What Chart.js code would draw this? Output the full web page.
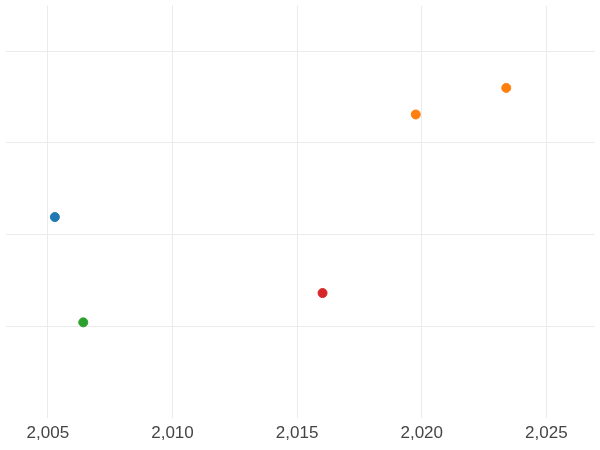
<!DOCTYPE html>
<html>
<head>
<script src="https://cdn.jsdelivr.net/npm/chart.js@4"></script>
<style>body{margin:0;background:#fff}</style>
</head>
<body>
<div style="width:600px;height:450px"><canvas id="c"></canvas></div>
<script>
const years = [2005.28, 2006.42, 2016.02, 2019.76, 2023.39];
const values = [2.19, 1.04, 1.36, 3.31, 3.6];
const colors = ["#1f77b4", "#2ca02c", "#d62728", "#ff7f0e", "#ff7f0e"];
const xTicks = [2005, 2010, 2015, 2020, 2025];

new Chart(document.getElementById("c"), {
  type: "scatter",
  data: {
    datasets: [{
      data: years.map((x, i) => ({ x: x, y: values[i] })),
      backgroundColor: colors,
      borderColor: colors,
      pointRadius: 4.5
    }]
  },
  options: {
    responsive: true,
    maintainAspectRatio: false,
    animation: false,
    layout: { padding: 0 },
    plugins: { legend: { display: false }, tooltip: { enabled: false } },
    scales: {
      x: {
        type: "linear", min: 2003.3, max: 2026.93,
        afterBuildTicks: (s) => { s.ticks = xTicks.map(v => ({ value: v })); },
        grid: { color: "#ebebeb", drawTicks: false },
        border: { display: false },
        ticks: { color: "#444", font: { size: 17 }, padding: 6 }
      },
      y: {
        min: 0, max: 4.5,
        afterBuildTicks: (s) => { s.ticks = [1, 2, 3, 4].map(v => ({ value: v })); },
        grid: { color: "#ebebeb", drawTicks: false },
        border: { display: false },
        ticks: { display: false }
      }
    }
  }
});
</script>
</body>
</html>
